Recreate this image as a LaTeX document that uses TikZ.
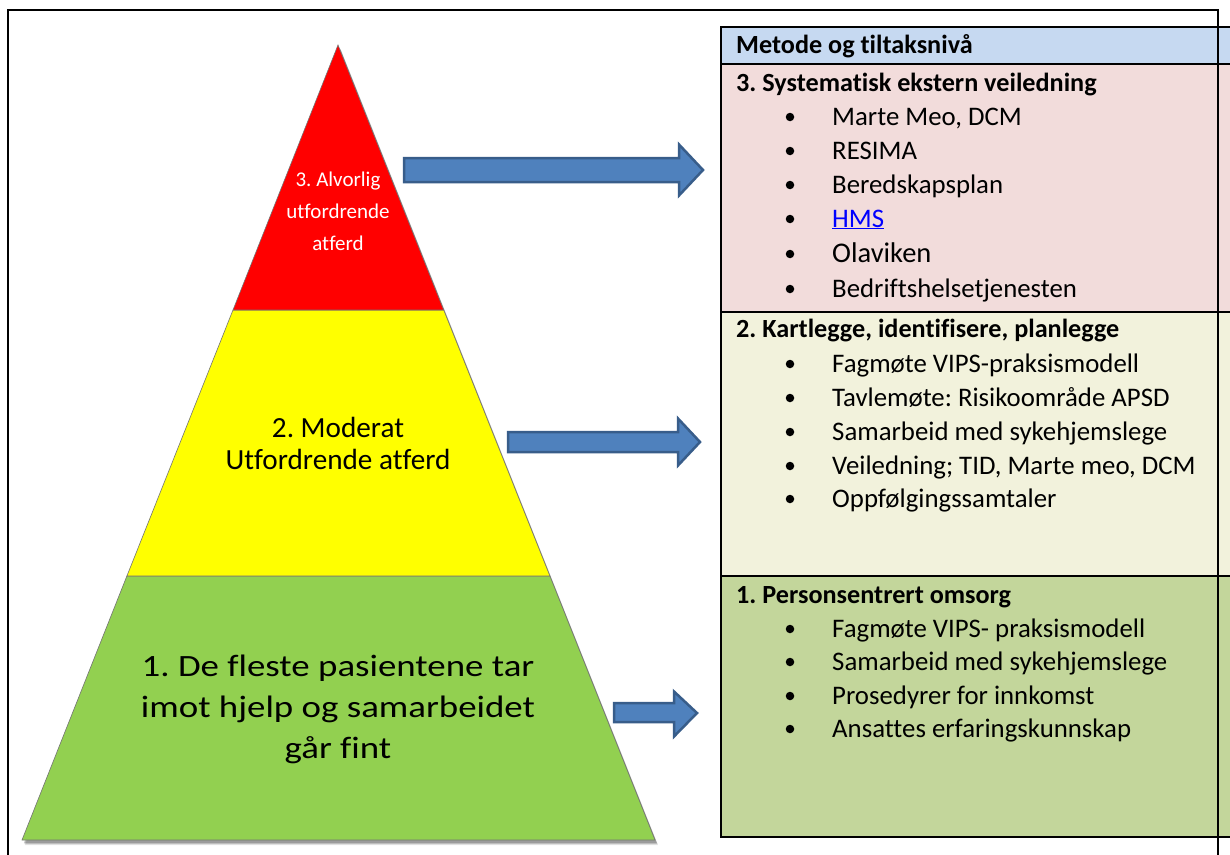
\documentclass[tikz,border=0pt]{standalone}
\usepackage{fontspec}
\setmainfont{Carlito}[Ligatures={NoCommon}]
\newfontfamily\widefont{Carlito}[FakeStretch=1.19, Ligatures={NoCommon}]
\frenchspacing
\definecolor{hdrblue}{HTML}{C6D9F1}
\definecolor{rowpink}{HTML}{F2DCDB}
\definecolor{rowcream}{HTML}{F2F2DC}
\definecolor{rowgreen}{HTML}{C3D69B}
\definecolor{pyrred}{HTML}{FF0000}
\definecolor{pyryellow}{HTML}{FFFF00}
\definecolor{pyrgreen}{HTML}{92D050}
\definecolor{arrfill}{HTML}{4F81BD}
\definecolor{arrline}{HTML}{385D8A}
\definecolor{linkblue}{HTML}{0000FF}
\tikzset{
  frameline/.style={line width=1.6pt, black},
  tabline/.style={line width=2.2pt, black},
  band/.style={draw=black!55, line width=0.6pt},
  blockarrow/.style={fill=arrfill, draw=arrline, line width=2.5pt, line join=miter},
  itemtext/.style={anchor=base west, inner sep=0pt, font=\fontsize{26.8}{30}\selectfont},
  titletext/.style={anchor=base west, inner sep=0pt, font=\fontsize{26.2}{30}\selectfont\bfseries},
  bulletdot/.style={circle, fill=black, inner sep=0pt, minimum size=8.5pt},
}
\newcommand{\itm}[3]{% name, baseline y, text
  \node[bulletdot] (#1b) at (790,#2-8) {};
  \node[itemtext] (#1) at (832,#2) {#3};
}
\begin{document}
\begin{tikzpicture}[x=1pt,y=-1pt]
\useasboundingbox (0,0) rectangle (1230,854);
\fill[white] (0,0) rectangle (1230,854);

% outer frame
\draw[frameline] (8,860) -- (8,10) -- (1218,10) -- (1218,860);

% ---- pyramid ----
\foreach \o/\op in {5/0.10,4/0.15,3/0.2} {
  \fill[black,opacity=\op] (338+\o*0.6,45+\o) -- (655+\o*0.6,840+\o) -- (22+\o*0.6,840+\o) -- cycle;
}
\path[band, fill=pyrgreen] (126.9,576) -- (549.9,576) -- (655,840) -- (22,840) -- cycle;
\path[band, fill=pyryellow] (233,310) -- (443.7,310) -- (549.9,576) -- (126.9,576) -- cycle;
\path[band, fill=pyrred] (338,45) -- (443.7,310) -- (233,310) -- cycle;

\node[align=center, text=white, inner sep=0pt, font=\fontsize{21}{32}\selectfont] (lvl3) at (338,211) {3. Alvorlig\\utfordrende\\atferd};
\node[align=center, inner sep=0pt, font=\fontsize{29.2}{32}\selectfont] (lvl2) at (338,443) {2. Moderat\\Utfordrende atferd};
\node[align=center, inner sep=0pt, font=\widefont\fontsize{31}{41}\selectfont] (lvl1) at (338,709) {1. De fleste pasientene tar\\imot hjelp og samarbeidet\\går fint};

% ---- block arrows ----
\draw[blockarrow] (404,158) -- (679,158) -- (679,144.5) -- (703,170) -- (679,195.5) -- (679,182) -- (404,182) -- cycle;
\draw[blockarrow] (508,432) -- (678,432) -- (678,418.5) -- (700,442) -- (678,465.5) -- (678,452) -- (508,452) -- cycle;
\draw[blockarrow] (614,703) -- (674,703) -- (674,691.5) -- (697,713) -- (674,736.5) -- (674,722) -- (614,722) -- cycle;

% ---- table ----
\fill[hdrblue] (721,27) rectangle (1235,64);
\fill[rowpink] (721,64) rectangle (1235,312);
\fill[rowcream] (721,312) rectangle (1235,576);
\fill[rowgreen] (721,576) rectangle (1235,837);
\draw[tabline] (1235,27) -- (721,27) -- (721,837) -- (1235,837);
\draw[tabline] (721,64) -- (1235,64);
\draw[tabline] (721,312) -- (1235,312);
\draw[tabline] (721,576) -- (1235,576);
\draw[frameline] (1218,10) -- (1218,860);

\node[titletext] (hdr) at (736,53) {Metode og tiltaksnivå};

\node[titletext] (t3) at (736,91) {3. Systematisk ekstern veiledning};
\itm{i31}{125}{Marte Meo, DCM}
\itm{i32}{159}{RESIMA}
\itm{i33}{193}{Beredskapsplan}
\itm{i34}{227}{\color{linkblue}\underline{HMS}}
\node[bulletdot] (i35b) at (790,254) {};
\node[itemtext, font=\fontsize{28.5}{30}\selectfont] (i35) at (832,262) {Olaviken};
\itm{i36}{297}{Bedriftshelsetjenesten}

\node[titletext] (t2) at (736,337) {2. Kartlegge, identifisere, planlegge};
\itm{i21}{372}{Fagmøte VIPS-praksismodell}
\itm{i22}{406}{Tavlemøte: Risikoområde APSD}
\itm{i23}{440}{Samarbeid med sykehjemslege}
\itm{i24}{474}{Veiledning; TID, Marte meo, DCM}
\itm{i25}{507}{Oppfølgingssamtaler}

\node[titletext] (t1) at (736,603) {1. Personsentrert omsorg};
\itm{i11}{637}{Fagmøte VIPS- praksismodell}
\itm{i12}{670}{Samarbeid med sykehjemslege}
\itm{i13}{704}{Prosedyrer for innkomst}
\itm{i14}{737}{Ansattes erfaringskunnskap}
\end{tikzpicture}
\end{document}
